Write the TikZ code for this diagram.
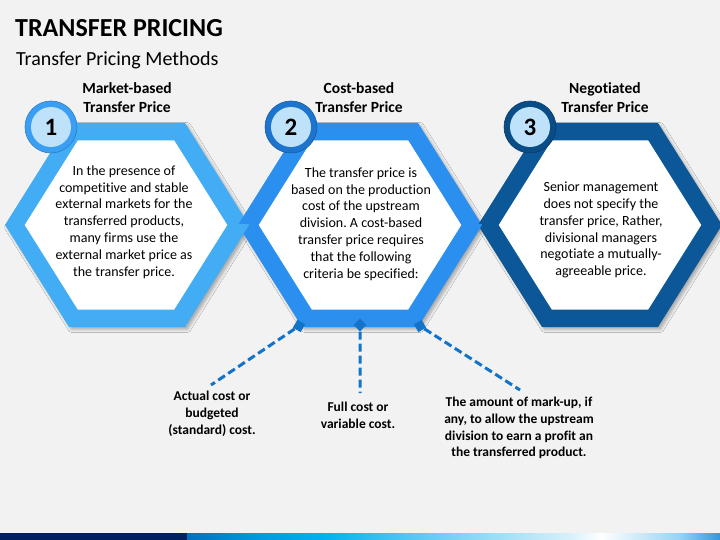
\documentclass[tikz,border=0pt]{standalone}
\usepackage{fontspec}
\setmainfont{Carlito}[Ligatures={NoCommon}]
\usetikzlibrary{shadows.blur}
\frenchspacing
\definecolor{bg}{HTML}{F2F2F2}
\definecolor{hexA}{HTML}{42ADF5}
\definecolor{hexB}{HTML}{2B8FEF}
\definecolor{hexC}{HTML}{0B5798}
\definecolor{ringA}{HTML}{3A9EF2}
\definecolor{ringB}{HTML}{1C74CC}
\definecolor{ringC}{HTML}{0A4C86}
\definecolor{numfill}{HTML}{BFE2FB}
\definecolor{dashblue}{HTML}{1273C8}
\definecolor{navy}{HTML}{002060}
\newcommand\hexfill[4]{\fill[#1,shift={(#2,#3)},scale=#4] (-122,0) -- (-58,-102) -- (58,-102) -- (122,0) -- (58,102) -- (-58,102) -- cycle;}
\tikzset{
  hshadow/.style={blur shadow={shadow xshift=2.5pt,shadow yshift=-2.5pt,shadow blur radius=3pt,shadow opacity=30}},
  ringnode/.style={circle,minimum size=52pt,inner sep=0pt},
  numnode/.style={circle,minimum size=40pt,inner sep=0pt,fill=numfill,font=\fontsize{25}{25}\selectfont\bfseries},
  headtext/.style={align=center,inner sep=0pt,font=\fontsize{15.5}{19}\selectfont\bfseries},
  bodytext/.style={align=center,inner sep=0pt,font=\fontsize{14}{16.8}\selectfont},
  subtext/.style={align=center,inner sep=0pt,font=\fontsize{13.5}{16.8}\selectfont\bfseries},
  diam/.style={rectangle,fill=dashblue,minimum size=9pt,inner sep=0pt},
  dashline/.style={draw=dashblue,line width=3pt,dash pattern=on 8pt off 4pt}
}
\begin{document}
\begin{tikzpicture}[x=1pt,y=-1pt]
\fill[bg] (0,0) rectangle (720,540);
\useasboundingbox (0,0) rectangle (720,540);
% title
\node[anchor=base west,inner sep=0pt,font=\fontsize{26}{30}\selectfont\bfseries] (title) at (15,37) {TRANSFER PRICING};
\node[anchor=base west,inner sep=0pt,font=\fontsize{20}{24}\selectfont] (subtitle) at (16,66) {Transfer Pricing Methods};
% hexagons
\hexfill{hexA,hshadow}{127}{225}{1}
\hexfill{white}{126}{225}{0.83}
\hexfill{hexB,hshadow}{360}{225}{1}
\hexfill{white}{360}{225}{0.83}
\hexfill{hexC,hshadow}{600}{225}{1}
\hexfill{white}{600}{225}{0.83}
% interleave lower halves
\begin{scope}
\clip (232,225) rectangle (258,262);
\hexfill{hexA}{127}{225}{1}
\end{scope}
\begin{scope}
\clip (466,225) rectangle (492,262);
\hexfill{hexB}{360}{225}{1}
\end{scope}
% number circles
\node[ringnode,fill=ringA,draw=ringA!80!black,line width=0.6pt] (c1) at (51,127) {};
\node[numnode] (n1) at (c1) {1};
\node[ringnode,fill=ringB,draw=ringB!80!black,line width=0.6pt] (c2) at (291,127) {};
\node[numnode] (n2) at (c2) {2};
\node[ringnode,fill=ringC,draw=ringC!80!black,line width=0.6pt] (c3) at (530,127) {};
\node[numnode] (n3) at (c3) {3};
% headings
\node[headtext] (h1) at (127,97.5) {Market-based\\Transfer Price};
\node[headtext] (h2) at (359,97.5) {Cost-based\\Transfer Price};
\node[headtext] (h3) at (605,97.5) {Negotiated\\Transfer Price};
% body texts
\node[bodytext] (b1) at (124,222) {In the presence of\\competitive and stable\\external markets for the\\transferred products,\\many firms use the\\external market price as\\the transfer price.};
\node[bodytext] (b2) at (361,224) {The transfer price is\\based on the production\\cost of the upstream\\division. A cost-based\\transfer price requires\\that the following\\criteria be specified:};
\node[bodytext] (b3) at (601,230) {Senior management\\does not specify the\\transfer price, Rather,\\divisional managers\\negotiate a mutually-\\agreeable price.};
% diamonds and connectors
\node[diam,rotate=-30] (d1) at (299,326) {};
\node[diam,rotate=45] (d2) at (360,325) {};
\node[diam,rotate=30] (d3) at (420,326) {};
\coordinate (e1) at (211,385);
\coordinate (e2) at (360,393);
\coordinate (e3) at (520,390);
\draw[dashline] (d1) -- (e1);
\draw[dashline] (d2) -- (e2);
\draw[dashline] (d3) -- (e3);
\node[subtext] (s1) at (212,414) {Actual cost or\\budgeted\\(standard) cost.};
\node[subtext] (s2) at (358,415.5) {Full cost or\\variable cost.};
\node[subtext] (s3) at (519,428) {The amount of mark-up, if\\any, to allow the upstream\\division to earn a profit an\\the transferred product.};
% bottom bar
\fill[navy] (0,533) rectangle (187.5,540);
\shade[left color={rgb,255:red,0;green,112;blue,192},right color={rgb,255:red,0;green,150;blue,220}] (187,533) rectangle (250.5,540);
\shade[left color={rgb,255:red,0;green,150;blue,220},right color={rgb,255:red,0;green,176;blue,240}] (250,533) rectangle (321.5,540);
\shade[left color={rgb,255:red,0;green,176;blue,240},right color={rgb,255:red,128;green,212;blue,245}] (321,533) rectangle (459.5,540);
\shade[left color={rgb,255:red,128;green,212;blue,245},right color={rgb,255:red,215;green,240;blue,251}] (459,533) rectangle (569.5,540);
\shade[left color={rgb,255:red,215;green,240;blue,251},right color=white] (569,533) rectangle (601.5,540);
\shade[left color=white,right color={rgb,255:red,150;green,210;blue,245}] (601,533) rectangle (680.5,540);
\shade[left color={rgb,255:red,150;green,210;blue,245},right color={rgb,255:red,50;green,150;blue,220}] (680,533) rectangle (720,540);
\end{tikzpicture}
\end{document}
